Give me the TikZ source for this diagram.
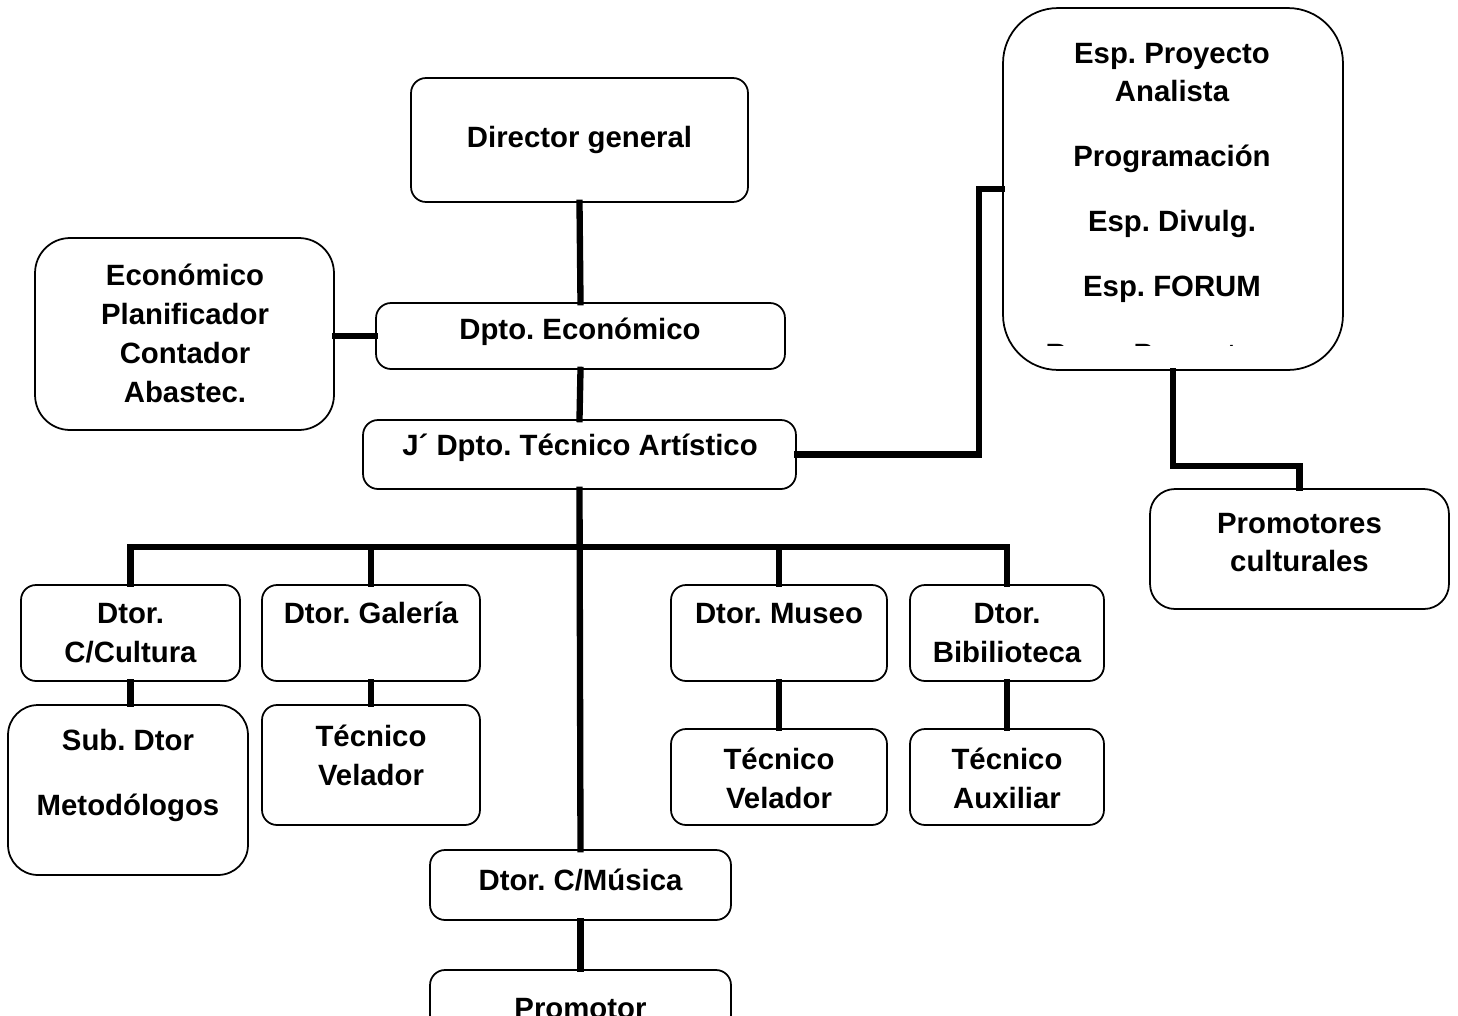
\documentclass[tikz,border=0pt]{standalone}
\usepackage{fontspec}
\setmainfont{Liberation Sans}[BoldFont={Liberation Sans Bold}]
\frenchspacing
\begin{document}
\begin{tikzpicture}[x=0.02cm,y=-0.02cm,
  box/.style={draw=black,line width=1pt,rounded corners=3mm,inner sep=0pt,fill=white},
  conn/.style={line width=3.6pt,line cap=rect},
  txt/.style={font=\fontsize{16.7}{20}\selectfont\bfseries,inner sep=0pt,anchor=base}]
\useasboundingbox (0,0) rectangle (1458,1015);
\coordinate (bus) at (0,547);
% boxes
\node[box,minimum width=67.4mm,minimum height=24.8mm] (dg) at (579.5,140) {};
\node[box,rounded corners=7mm,minimum width=59.8mm,minimum height=38.4mm] (eco) at (184.5,334) {};
\node[box,minimum width=81.8mm,minimum height=13.2mm] (dpe) at (580.5,336) {};
\node[box,minimum width=86.6mm,minimum height=13.8mm] (jdt) at (579.5,454.5) {};
\node[box,rounded corners=11mm,minimum width=68mm,minimum height=72.4mm] (esp) at (1173,189) {};
\node[box,rounded corners=5mm,minimum width=59.8mm,minimum height=24mm] (prc) at (1299.5,549) {};
\node[box,minimum width=43.8mm,minimum height=19.2mm] (dcc) at (130.5,633) {};
\node[box,minimum width=43.6mm,minimum height=19.2mm] (dga) at (371,633) {};
\node[box,minimum width=43.2mm,minimum height=19.2mm] (dmu) at (779,633) {};
\node[box,minimum width=38.8mm,minimum height=19.2mm] (dbi) at (1007,633) {};
\node[box,rounded corners=6mm,minimum width=48mm,minimum height=34mm] (sub) at (128,790) {};
\node[box,minimum width=43.6mm,minimum height=24mm] (tv1) at (371,765) {};
\node[box,minimum width=43.2mm,minimum height=19.2mm] (tv2) at (779,777) {};
\node[box,minimum width=38.8mm,minimum height=19.2mm] (tax) at (1007,777) {};
\node[box,minimum width=60.2mm,minimum height=14mm] (dcm) at (580.5,885) {};
\node[box,minimum width=60.2mm,minimum height=12mm] (pro) at (580.5,1000) {};
% connectors
\draw[conn] (dg.south) -- (dpe.north);
\draw[conn] (dpe.west) -- (dpe.west -| eco.east);
\draw[conn] (dpe.south) -- (jdt.north);
\draw[conn] (jdt.east) -- ++(182,0) |- (esp.west);
\draw[conn] (esp.south) -- ++(0,95) -| (prc.north);
\draw[conn] (jdt.south) -- (dcm.north);
\draw[conn] (dcc.north) -- (dcc.north |- bus) -- (dbi.north |- bus) -- (dbi.north);
\draw[conn] (dga.north) -- (dga.north |- bus);
\draw[conn] (dmu.north) -- (dmu.north |- bus);
\draw[conn] (dcc.south) -- (dcc.south |- sub.north);
\draw[conn] (dga.south) -- (tv1.north);
\draw[conn] (dmu.south) -- (tv2.north);
\draw[conn] (dbi.south) -- (tax.north);
\draw[conn] (dcm.south) -- (pro.north);
% texts
\node[txt] (t1) at (579.5,147) {Director general};
\node[txt] (t2) at (185,285) {Económico};
\node[txt] (t3) at (185,324) {Planificador};
\node[txt] (t4) at (185,363) {Contador};
\node[txt] (t5) at (185,402) {Abastec.};
\node[txt] (t6) at (580,339) {Dpto. Económico};
\node[txt] (t7) at (580,455) {J´ Dpto. Técnico Artístico};
\node[txt] (t8) at (1172,63) {Esp. Proyecto};
\node[txt] (t9) at (1172,101) {Analista};
\node[txt] (t10) at (1172,166) {Programación};
\node[txt] (t11) at (1172,231) {Esp. Divulg.};
\node[txt] (t12) at (1172,296) {Esp. FORUM};
\begin{scope}
\clip (1003,8) rectangle (1343,345);
\node[txt] (t13) at (1172,364) {Resp. Promotores};
\end{scope}
\node[txt] (t14) at (1299.5,533) {Promotores};
\node[txt] (t15) at (1299.5,571) {culturales};
\node[txt] (t16) at (130.5,623) {Dtor.};
\node[txt] (t17) at (130.5,662) {C/Cultura};
\node[txt] (t18) at (371,623) {Dtor. Galería};
\node[txt] (t19) at (779,623) {Dtor. Museo};
\node[txt] (t20) at (1007,623) {Dtor.};
\node[txt] (t21) at (1007,662) {Bibilioteca};
\node[txt] (t22) at (128,750) {Sub. Dtor};
\node[txt] (t23) at (128,815) {Metodólogos};
\node[txt] (t24) at (371,746) {Técnico};
\node[txt] (t25) at (371,785) {Velador};
\node[txt] (t26) at (779,769) {Técnico};
\node[txt] (t27) at (779,808) {Velador};
\node[txt] (t28) at (1007,769) {Técnico};
\node[txt] (t29) at (1007,808) {Auxiliar};
\node[txt] (t30) at (580.5,890) {Dtor. C/Música};
\node[txt] (t31) at (580.5,1018) {Promotor};
\end{tikzpicture}
\end{document}
